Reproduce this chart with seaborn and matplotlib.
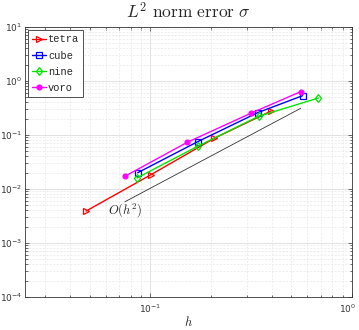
import numpy as np
import pandas as pd
import seaborn as sns
import matplotlib
matplotlib.use("Agg")
import matplotlib.pyplot as plt
import matplotlib.transforms as mtransforms
from matplotlib.ticker import LogLocator, NullFormatter

# mesh sizes and L2 errors
h_tetra = [0.048, 0.1007, 0.2075, 0.397]
err_tetra = [0.0039, 0.0184, 0.0869, 0.278]
h_cube = [0.0865, 0.1717, 0.3406, 0.569]
err_cube = [0.0200, 0.0752, 0.259, 0.535]
h_nine = [0.0858, 0.1717, 0.3445, 0.681]
err_nine = [0.0160, 0.0618, 0.222, 0.484]
h_voro = [0.0748, 0.1525, 0.3145, 0.5566]
err_voro = [0.0172, 0.0733, 0.252, 0.634]

# O(h^2) guide line
h_ref = [0.0748, 0.5566]
err_ref = [0.0058, 0.312]

series = ["tetra", "cube", "nine", "voro"]

sns.set_style("ticks")
plt.rcParams["mathtext.fontset"] = "cm"
plt.rcParams["font.family"] = ["DejaVu Sans"]

frames = []
for name, h, e in zip(series, [h_tetra, h_cube, h_nine, h_voro],
                      [err_tetra, err_cube, err_nine, err_voro]):
    frames.append(pd.DataFrame({"h": h, "err": e, "mesh": name}))
df = pd.concat(frames, ignore_index=True)

styles = {
    "tetra": dict(color=(1, 0, 0), marker=">", mfc="none", ms=4.5),
    "cube": dict(color=(0, 0, 1), marker="s", mfc="none", ms=4),
    "nine": dict(color=(0, 0.9, 0), marker="d", mfc="none", ms=4.5),
    "voro": dict(color=(1, 0, 1), marker="o", mfc=(1, 0, 1), ms=3.5),
}

fig = plt.figure(figsize=(3.59, 3.30), dpi=100)
ax = fig.add_axes([25 / 359, 1 - 297 / 330, 327 / 359, 270 / 330])

for name in series:
    st = styles[name]
    sns.lineplot(data=df[df["mesh"] == name], x="h", y="err", ax=ax,
                 color=st["color"], marker=st["marker"], markersize=st["ms"],
                 markerfacecolor=st["mfc"], markeredgecolor=st["color"],
                 markeredgewidth=0.9, linewidth=1.0, label=name)

sns.lineplot(x=h_ref, y=err_ref, ax=ax, color="#333333", linewidth=0.6, legend=False)
ax.text(0.0745, 0.0041, r"$O(h^2)$", fontsize=9, ha="center", va="center")

ax.set_xscale("log")
ax.set_yscale("log")
ax.set_xlim(0.0239, 1)
ax.set_ylim(1e-4, 10)

ax.yaxis.set_major_locator(LogLocator(base=10, numticks=10))
ax.yaxis.set_minor_locator(LogLocator(base=10, subs=np.arange(2, 10), numticks=20))
ax.yaxis.set_minor_formatter(NullFormatter())
ax.xaxis.set_minor_formatter(NullFormatter())

ax.grid(True, which="major", color="#dddddd", linewidth=0.6)
ax.grid(True, which="minor", color="#e8e8e8", linewidth=0.5, linestyle=(0, (3, 2)))
ax.set_axisbelow(True)

ax.tick_params(which="both", direction="in", top=True, right=True,
               labelsize=6.5, labelcolor="#333333", color="#333333", width=0.5, pad=2)
ax.tick_params(axis="x", which="major", pad=4)
ax.tick_params(which="major", length=3)
ax.tick_params(which="minor", length=1.8)
for sp in ax.spines.values():
    sp.set_linewidth(0.6)
    sp.set_color("#333333")

ax.set_xlabel(r"$h$", fontsize=9, labelpad=0)
ax.set_ylabel("")
ax.set_title(r"$L^2\ \mathrm{norm\ error}\ \sigma$", fontsize=12.5, pad=6)

leg = ax.legend(loc="upper left", prop={"family": "Liberation Mono", "size": 7.5},
                handlelength=1.3, handletextpad=0.2, borderpad=0.4,
                labelspacing=0.6, fancybox=False, framealpha=1,
                edgecolor="#333333", borderaxespad=0.3)
leg.get_frame().set_linewidth(0.6)

# keep the 10^0 label inside the canvas
fig.canvas.draw()
shift = mtransforms.ScaledTranslation(-4 / 100, 0, fig.dpi_scale_trans)
for lab in ax.get_xticklabels():
    if lab.get_position()[0] >= 0.99:
        lab.set_transform(lab.get_transform() + shift)

fig.savefig("out.png", dpi=100)
